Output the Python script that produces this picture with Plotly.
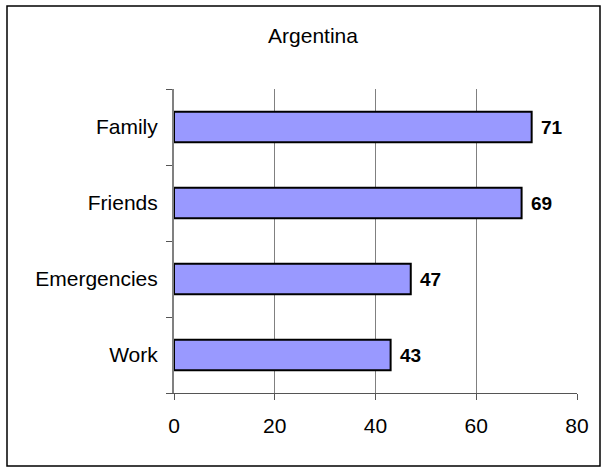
import plotly.graph_objects as go

categories = ["Family", "Friends", "Emergencies", "Work"]
values = [71, 69, 47, 43]
x_ticks = [0, 20, 40, 60, 80]

FONT = "Arial, Liberation Sans"

fig = go.Figure(go.Bar(
    y=categories, x=values, orientation="h",
    marker=dict(color="#9999FF", line=dict(color="black", width=2)),
    width=0.4,
    hoverinfo="x+y",
))

L, R, T, B = 174, 577, 89, 393
W, H = 607, 470
pw, ph = R - L, B - T
def px(x): return (x - L) / pw
def py(y): return (B - y) / ph

annotations = [
    dict(x=v, y=c, xref="x", yref="y", text=f"<b>{v}</b>", showarrow=False,
         xanchor="left", yanchor="middle", xshift=7,
         font=dict(family=FONT, size=19, color="black"))
    for c, v in zip(categories, values)
]

fig.update_layout(
    width=W, height=H,
    margin=dict(l=L, r=W - R, t=T, b=H - B),
    paper_bgcolor="white", plot_bgcolor="white",
    showlegend=False,
    font=dict(family=FONT, size=21, color="black"),
    title=dict(text="Argentina", x=313 / W, xanchor="center", xref="container",
               y=1 - 36 / H, yanchor="middle", yref="container",
               font=dict(size=21, color="black")),
    xaxis=dict(range=[0, 80], tickvals=x_ticks, showgrid=True, gridcolor="#808080",
               gridwidth=1, zeroline=False, showline=True, linecolor="#555555",
               linewidth=1, ticks="outside", ticklen=6, tickcolor="#555555",
               ticklabelstandoff=8, fixedrange=True),
    yaxis=dict(categoryorder="array", categoryarray=categories[::-1],
               showline=True, linecolor="#808080", linewidth=2,
               ticks="outside", tickson="boundaries", ticklen=6, tickcolor="#555555",
               showgrid=False, zeroline=False, ticklabelstandoff=10, fixedrange=True),
    annotations=annotations,
    shapes=[dict(type="rect", xref="paper", yref="paper",
                 x0=px(7), x1=px(600), y0=py(466), y1=py(6),
                 line=dict(color="black", width=1.5), layer="below")],
)

fig.write_html(
    "out.html",
    config={"displayModeBar": False},
    post_script="document.body.style.margin='0';document.body.style.overflow='hidden';",
)
